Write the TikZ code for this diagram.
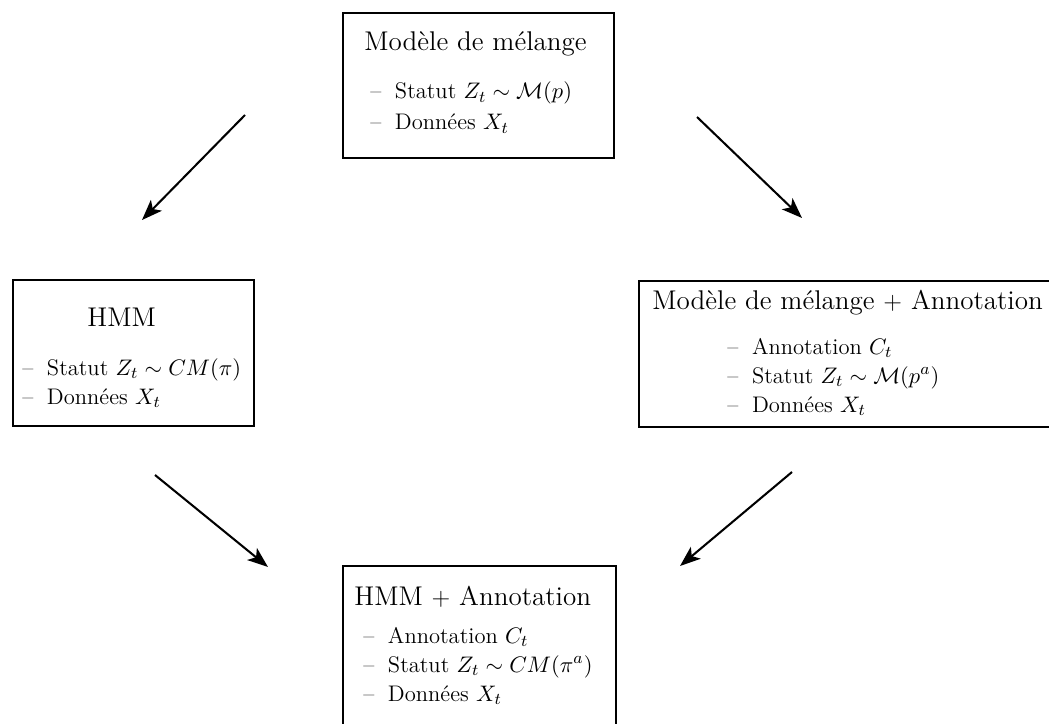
\documentclass[tikz,border=0pt]{standalone}
\usetikzlibrary{arrows.meta}
\begin{document}
\begin{tikzpicture}[x=0.4878pt,y=-0.4878pt,
  boxstyle/.style={draw,line width=1pt,inner sep=0pt,anchor=north west},
  titlestyle/.style={inner sep=0pt,anchor=base west,font=\fontsize{13.2}{16}\selectfont},
  itemstyle/.style={inner sep=0pt,anchor=base west,font=\fontsize{11}{13}\selectfont},
  arr/.style={line width=1pt,-{Stealth[length=10pt,width=7.5pt,inset=2.5pt]}}]
\useasboundingbox (0,0) rectangle (1049,724);
\clip (0,0) rectangle (1049,724);
% boxes
\node[boxstyle,minimum width=271*0.4878pt,minimum height=145*0.4878pt] (top) at (342,12) {};
\node[boxstyle,minimum width=241*0.4878pt,minimum height=146*0.4878pt] (left) at (12,279) {};
\node[boxstyle,minimum width=440*0.4878pt,minimum height=146*0.4878pt] (right) at (638,280) {};
\node[boxstyle,minimum width=273*0.4878pt,minimum height=200*0.4878pt] (bottom) at (342,565) {};
% top texts
\node[titlestyle] (ttitle) at (364,51) {Modèle de mélange};
\node[itemstyle] (ti1) at (370,99) {\textendash\hspace{0.6em}Statut $Z_t\sim\mathcal{M}(p)$};
\node[itemstyle] (ti2) at (370,130) {\textendash\hspace{0.6em}Données $X_t$};
% left texts
\node[titlestyle] (ltitle) at (87,327) {HMM};
\node[itemstyle] (li1) at (22,375) {\textendash\hspace{0.6em}Statut $Z_t\sim CM(\pi)$};
\node[itemstyle] (li2) at (22,404) {\textendash\hspace{0.6em}Données $X_t$};
% right texts
\node[titlestyle] (rtitle) at (652,309) {Modèle de mélange $+$ Annotation};
\node[itemstyle] (ri1) at (727,354) {\textendash\hspace{0.6em}Annotation $C_t$};
\node[itemstyle] (ri2) at (727,383) {\textendash\hspace{0.6em}Statut $Z_t\sim\mathcal{M}(p^a)$};
\node[itemstyle] (ri3) at (727,412) {\textendash\hspace{0.6em}Données $X_t$};
% bottom texts
\node[titlestyle] (btitle) at (354,605) {HMM $+$ Annotation};
\node[itemstyle] (bi1) at (363,643) {\textendash\hspace{0.6em}Annotation $C_t$};
\node[itemstyle] (bi2) at (363,672) {\textendash\hspace{0.6em}Statut $Z_t\sim CM(\pi^a)$};
\node[itemstyle] (bi3) at (363,701) {\textendash\hspace{0.6em}Données $X_t$};
% arrow end points
\coordinate (a1s) at (245,115); \coordinate (a1e) at (142,220);
\coordinate (a2s) at (697,117); \coordinate (a2e) at (802,218);
\coordinate (a3s) at (155,475); \coordinate (a3e) at (268,567);
\coordinate (a4s) at (792,472); \coordinate (a4e) at (680,566);
\draw[arr] (a1s) -- (a1e);
\draw[arr] (a2s) -- (a2e);
\draw[arr] (a3s) -- (a3e);
\draw[arr] (a4s) -- (a4e);
\end{tikzpicture}
\end{document}
